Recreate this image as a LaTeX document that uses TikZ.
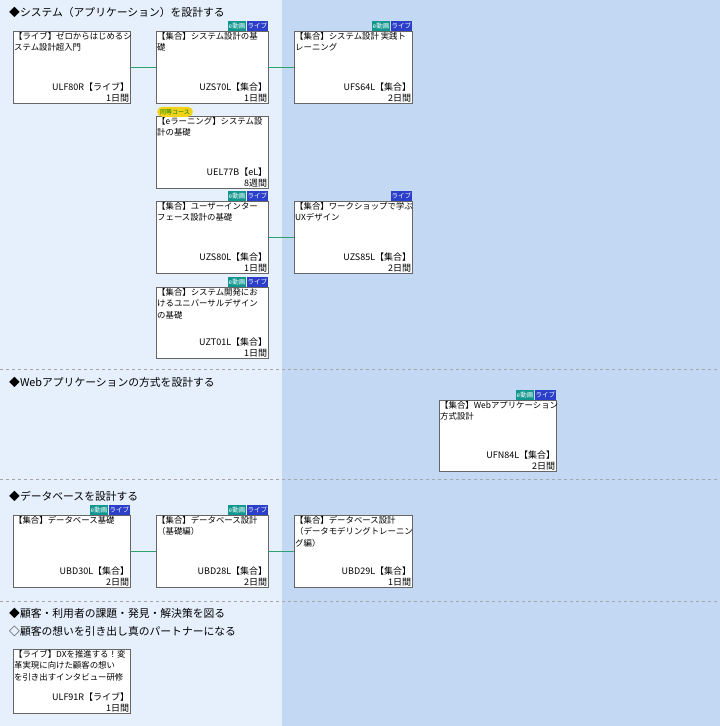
\documentclass[tikz,border=0pt]{standalone}
\usepackage{fontspec}
\setmainfont{Noto Sans CJK JP}
\usetikzlibrary{positioning}
\definecolor{leftbg}{HTML}{E6F0FC}
\definecolor{rightbg}{HTML}{C3D9F3}
\definecolor{linkgreen}{HTML}{2FA070}
\definecolor{evid}{HTML}{11978F}
\definecolor{live}{HTML}{2B3FCB}
\definecolor{sameyellow}{HTML}{F3D21B}
\tikzset{
  coursebox/.style={draw=gray!80!black, fill=white, anchor=north west, inner sep=0pt},
  titletext/.style={anchor=north west, inner sep=1pt, align=left, font=\fontsize{8.4}{11.5}\selectfont},
  codetext/.style={anchor=south east, inner sep=1pt, align=right, font=\fontsize{9}{11}\selectfont},
  badge/.style={anchor=south east, inner sep=1pt, text=white, font=\fontsize{6.5}{7}\selectfont, minimum height=9.5pt},
  heading/.style={anchor=west, inner sep=0pt, font=\fontsize{10.8}{12}\selectfont},
  link/.style={draw=linkgreen, line width=1.4pt},
  sepline/.style={draw=gray!70, dashed, line width=0.5pt}
}
% \course{name}{x}{y}{w}{h}{title}{code and days}
\newcommand{\course}[7]{%
  \node[coursebox, minimum width=#4pt, minimum height=#5pt] (#1) at (#2,#3) {};
  \node[titletext] at (#1.north west) {#6};
  \node[codetext] at (#1.south east) {#7};
}
\newcommand{\badges}[1]{%
  \node[badge, fill=live] (#1-live) at (#1.north east) {ライブ};
  \node[badge, fill=evid, left=0pt of #1-live] {e動画};
}
\begin{document}
\begin{tikzpicture}[x=1pt,y=-1pt]
  % backgrounds
  \fill[leftbg] (0,0) rectangle (282,726);
  \fill[rightbg] (282,0) rectangle (720,726);
  \useasboundingbox (0,0) rectangle (720,726);
  \draw[sepline] (0,369) -- (720,369);
  \draw[sepline] (0,479) -- (720,479);
  \draw[sepline] (0,601) -- (720,601);

  % headings
  \node[heading] (h1) at (9,12) {◆システム（アプリケーション）を設計する};
  \node[heading] (h2) at (9,382) {◆Webアプリケーションの方式を設計する};
  \node[heading] (h3) at (9,496) {◆データベースを設計する};
  \node[heading] (h4) at (9,613) {◆顧客・利用者の課題・発見・解決策を図る};
  \node[heading] (h5) at (9,631) {◇顧客の想いを引き出し真のパートナーになる};

  % system design
  \course{ulf80r}{13}{31}{117}{72}{【ライブ】ゼロからはじめるシ\\ステム設計超入門}{ULF80R【ライブ】\\1日間}
  \course{uzs70l}{156}{31}{112}{72}{【集合】システム設計の基\\礎}{UZS70L【集合】\\1日間}
  \course{ufs64l}{294}{31}{118}{72}{【集合】システム設計 実践ト\\レーニング}{UFS64L【集合】\\2日間}
  \course{uel77b}{156}{116}{112}{72}{【eラーニング】システム設\\計の基礎}{UEL77B【eL】\\8週間}
  \course{uzs80l}{156}{201}{112}{72}{【集合】ユーザーインター\\フェース設計の基礎}{UZS80L【集合】\\1日間}
  \course{uzs85l}{294}{201}{118}{72}{【集合】ワークショップで学ぶ\\UXデザイン}{UZS85L【集合】\\2日間}
  \course{uzt01l}{156}{287}{112}{71}{【集合】システム開発にお\\けるユニバーサルデザイン\\の基礎}{UZT01L【集合】\\1日間}
  \badges{uzs70l}
  \badges{ufs64l}
  \badges{uzs80l}
  \badges{uzt01l}
  \node[badge, fill=live] (uzs85l-live) at (uzs85l.north east) {ライブ};
  \node[fill=sameyellow, rounded corners=5pt, inner xsep=3pt, inner ysep=1pt, text=green!50!black,
        font=\fontsize{6}{7}\selectfont, anchor=south west, minimum height=10pt] (same) at ([xshift=1pt,yshift=-1pt]uel77b.north west) {同等コース};
  \draw[link] (ulf80r) -- (uzs70l);
  \draw[link] (uzs70l) -- (ufs64l);
  \draw[link] (uzs80l) -- (uzs85l);

  % web application
  \course{ufn84l}{439}{400}{117}{71}{【集合】Webアプリケーション\\方式設計}{UFN84L【集合】\\2日間}
  \badges{ufn84l}

  % database
  \course{ubd30l}{13}{515}{117}{72}{【集合】データベース基礎}{UBD30L【集合】\\2日間}
  \course{ubd28l}{156}{515}{112}{72}{【集合】データベース設計\\（基礎編）}{UBD28L【集合】\\2日間}
  \course{ubd29l}{294}{515}{118}{72}{【集合】データベース設計\\（データモデリングトレーニン\\グ編）}{UBD29L【集合】\\1日間}
  \badges{ubd30l}
  \badges{ubd28l}
  \draw[link] (ubd30l) -- (ubd28l);
  \draw[link] (ubd28l) -- (ubd29l);

  % customer
  \course{ulf91r}{13}{649}{117}{64}{【ライブ】DXを推進する！変\\革実現に向けた顧客の想い\\を引き出すインタビュー研修}{ULF91R【ライブ】\\1日間}
\end{tikzpicture}
\end{document}
